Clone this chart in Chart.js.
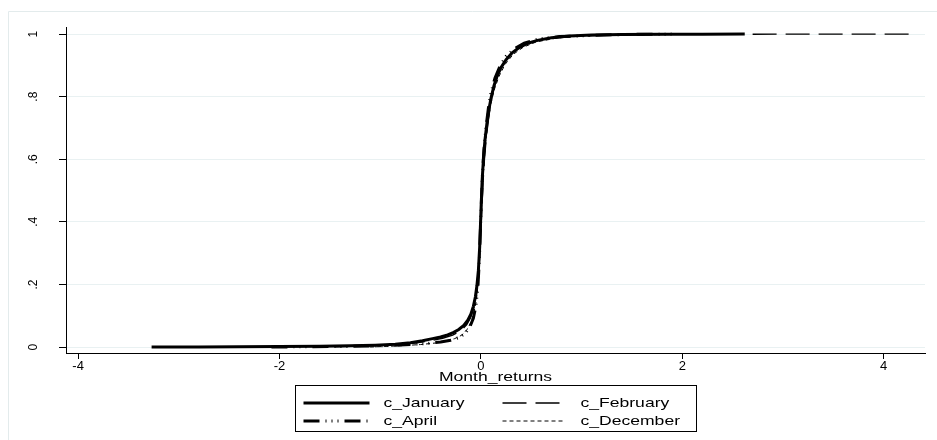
<!DOCTYPE html>
<html>
<head>
<meta charset="utf-8">
<title>Cumulative distribution of Month_returns</title>
<script src="https://cdn.jsdelivr.net/npm/chart.js@4.4.1/dist/chart.umd.min.js"></script>
<style>
    html, body { margin: 0; padding: 0; background: #fff; }
    #wrap { width: 937px; height: 440px; position: relative; }
</style>
</head>
<body>
<div id="wrap"><canvas id="cdf"></canvas></div>
<script>
// Данные: доходности месяца (x) и накопленная доля (y) по каждой серии
const seriesNames = ['c_January', 'c_February', 'c_April', 'c_December'];

const janX = [-3.27, -2.8, -2.4, -2.0, -1.6, -1.3, -1.05, -0.85, -0.7, -0.58, -0.48, -0.4, -0.33, -0.27, -0.22,
    -0.17, -0.13, -0.1, -0.075, -0.055, -0.04, -0.025, -0.012, 0.0, 0.012, 0.025, 0.04, 0.06, 0.08, 0.1,
    0.13, 0.16, 0.2, 0.25, 0.31, 0.38, 0.46, 0.56, 0.7, 0.88, 1.1, 1.4, 1.8, 2.2, 2.62];
const janY = [0.0, 0.0004, 0.0008, 0.0014, 0.0025, 0.004, 0.006, 0.009, 0.014, 0.02, 0.027, 0.032, 0.039, 0.047, 0.056,
    0.069, 0.086, 0.105, 0.13, 0.16, 0.195, 0.245, 0.32, 0.43, 0.53, 0.6, 0.66, 0.715, 0.76, 0.795,
    0.835, 0.865, 0.893, 0.918, 0.94, 0.957, 0.97, 0.98, 0.988, 0.994, 0.997, 0.9985, 0.9993, 0.9997, 1.0];

const febX = [-1.45, -1.1, -0.85, -0.65, -0.5, -0.38, -0.28, -0.2, -0.14, -0.1, -0.07, -0.045, -0.025, -0.01, 0.005,
    0.02, 0.035, 0.055, 0.08, 0.11, 0.15, 0.2, 0.27, 0.36, 0.48, 0.65, 0.9, 1.3, 1.9, 2.6, 3.4, 4.31];
const febY = [0.001, 0.004, 0.008, 0.013, 0.02, 0.028, 0.038, 0.052, 0.072, 0.095, 0.125, 0.165, 0.22, 0.3, 0.41,
    0.52, 0.6, 0.675, 0.74, 0.8, 0.852, 0.892, 0.927, 0.953, 0.972, 0.985, 0.993, 0.997, 0.999, 0.9996, 0.9999, 1.0];

const aprX = [-2.08, -1.7, -1.3, -1.0, -0.75, -0.55, -0.4, -0.3, -0.22, -0.16, -0.11, -0.075, -0.05, -0.03, -0.015,
    0.0, 0.015, 0.03, 0.05, 0.075, 0.1, 0.14, 0.19, 0.25, 0.33, 0.43, 0.57, 0.78, 1.1, 1.5, 1.95];
const aprY = [0.0, 0.001, 0.002, 0.004, 0.007, 0.011, 0.016, 0.022, 0.03, 0.042, 0.064, 0.092, 0.13, 0.19, 0.28,
    0.42, 0.55, 0.63, 0.7, 0.765, 0.812, 0.86, 0.898, 0.929, 0.953, 0.971, 0.984, 0.992, 0.996, 0.999, 1.0];

const decX = [-1.1, -0.8, -0.6, -0.45, -0.34, -0.26, -0.19, -0.14, -0.1, -0.07, -0.045, -0.025, -0.01, 0.005, 0.02,
    0.04, 0.065, 0.095, 0.13, 0.18, 0.24, 0.32, 0.42, 0.55, 0.75, 1.0, 1.4, 1.9, 2.3];
const decY = [0.0, 0.004, 0.008, 0.013, 0.019, 0.027, 0.038, 0.055, 0.078, 0.108, 0.15, 0.21, 0.3, 0.42, 0.53,
    0.63, 0.71, 0.77, 0.82, 0.865, 0.903, 0.935, 0.958, 0.975, 0.987, 0.994, 0.998, 0.9995, 1.0];

const xTicks = [-4, -2, 0, 2, 4];
const yTicks = [0, 0.2, 0.4, 0.6, 0.8, 1];
const yTickLabels = ['0', '.2', '.4', '.6', '.8', '1'];

const FONT = '"Liberation Sans", Arial, sans-serif';
const STRETCH = 1.35; // текст в оригинале растянут по горизонтали

function toPoints(xs, ys) {
    return xs.map((x, i) => ({ x: x, y: ys[i] }));
}

function stretchedText(ctx, text, x, y, align) {
    ctx.save();
    ctx.translate(x, y);
    ctx.scale(STRETCH, 1);
    ctx.font = '13px ' + FONT;
    ctx.fillStyle = '#000';
    ctx.textAlign = align;
    ctx.textBaseline = 'middle';
    ctx.fillText(text, 0, 0);
    ctx.restore();
}

function sampleLine(ctx, ds, x1, x2, y) {
    ctx.save();
    ctx.strokeStyle = '#000';
    ctx.lineWidth = ds.borderWidth;
    ctx.setLineDash(ds.borderDash || []);
    ctx.beginPath();
    ctx.moveTo(x1, y);
    ctx.lineTo(x2, y);
    ctx.stroke();
    ctx.restore();
}

// Рамка графика, подпись оси X и легенда в стиле Stata
const stataExtras = {
    id: 'stataExtras',
    beforeDraw(chart) {
        const ctx = chart.ctx;
        ctx.save();
        ctx.strokeStyle = '#e3ebec';
        ctx.lineWidth = 1;
        ctx.beginPath();
        ctx.moveTo(8.5, chart.height);
        ctx.lineTo(8.5, 11.5);
        ctx.lineTo(chart.width, 11.5);
        ctx.stroke();
        ctx.restore();
    },
    afterDraw(chart) {
        const ctx = chart.ctx;
        const area = chart.chartArea;
        const cx = (area.left + area.right) / 2;

        stretchedText(ctx, 'Month_returns', cx, 377, 'center');

        const left = Math.round(cx - 201) + 0.5;
        const top = 385.5;
        ctx.save();
        ctx.strokeStyle = '#000';
        ctx.lineWidth = 1;
        ctx.strokeRect(left, top, 401, 46);
        ctx.restore();

        const rows = [403, 421];
        const cols = [[left + 8, left + 74, left + 88], [left + 207, left + 269, left + 285]];
        chart.data.datasets.forEach((ds, i) => {
            const row = rows[Math.floor(i / 2)];
            const col = cols[i % 2];
            sampleLine(ctx, ds, col[0], col[1], row);
            stretchedText(ctx, ds.label, col[2], row, 'left');
        });
    }
};

const lineStyles = [
    { borderWidth: 3, borderDash: [] },
    { borderWidth: 1.4, borderDash: [24, 9] },
    { borderWidth: 3, borderDash: [16, 6, 1, 5, 1, 5, 1, 6] },
    { borderWidth: 1, borderDash: [4, 3] }
];
const seriesData = [toPoints(janX, janY), toPoints(febX, febY), toPoints(aprX, aprY), toPoints(decX, decY)];

Chart.defaults.font.family = FONT;
Chart.defaults.color = '#000';

const ctx = document.getElementById('cdf').getContext('2d');
new Chart(ctx, {
    type: 'scatter',
    data: {
        datasets: seriesNames.map((name, i) => ({
            label: name,
            data: seriesData[i],
            showLine: true,
            pointRadius: 0,
            borderColor: '#000',
            borderWidth: lineStyles[i].borderWidth,
            borderDash: lineStyles[i].borderDash,
            borderCapStyle: 'butt',
            tension: 0
        }))
    },
    options: {
        responsive: true,
        maintainAspectRatio: false,
        animation: false,
        layout: {
            padding: { left: 0, right: 12, top: 27, bottom: 57 }
        },
        plugins: {
            legend: { display: false },
            tooltip: { enabled: false }
        },
        scales: {
            x: {
                type: 'linear',
                min: -4.12,
                max: 4.41,
                afterBuildTicks: (scale) => { scale.ticks = xTicks.map(v => ({ value: v })); },
                afterFit: (scale) => { scale.height = 30; },
                ticks: {
                    font: { size: 13 },
                    color: '#000',
                    padding: 0,
                    maxRotation: 0,
                    autoSkip: false
                },
                grid: {
                    drawOnChartArea: false,
                    drawTicks: true,
                    tickLength: 6,
                    tickColor: '#000'
                },
                border: { color: '#000', width: 1 }
            },
            y: {
                min: -0.019,
                max: 1.022,
                afterBuildTicks: (scale) => { scale.ticks = yTicks.map(v => ({ value: v })); },
                afterFit: (scale) => { scale.width = 66; },
                ticks: {
                    font: { size: 12 },
                    color: '#000',
                    minRotation: 90,
                    maxRotation: 90,
                    crossAlign: 'center',
                    padding: 20,
                    callback: (value) => yTickLabels[yTicks.indexOf(value)]
                },
                grid: {
                    color: '#e9f1f2',
                    lineWidth: 1,
                    drawTicks: true,
                    tickLength: 7,
                    tickColor: '#000'
                },
                border: { color: '#000', width: 1 }
            }
        }
    },
    plugins: [stataExtras]
});
</script>
</body>
</html>
